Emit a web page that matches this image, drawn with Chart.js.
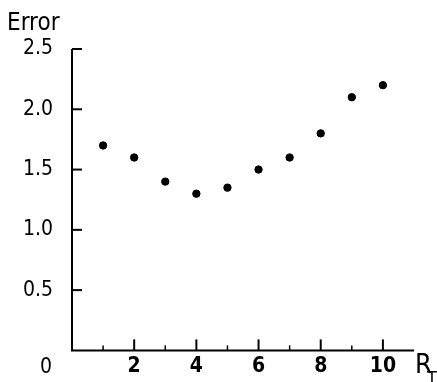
<!DOCTYPE html>
<html>
<head>
<meta charset="utf-8">
<script src="https://cdn.jsdelivr.net/npm/chart.js@4"></script>
<style>
  html, body { margin: 0; padding: 0; background: #fff; }
  #wrap { width: 437px; height: 382px; position: relative; }
</style>
</head>
<body>
<div id="wrap"><canvas id="errChart"></canvas></div>
<script>
// data
const rtValues = [1, 2, 3, 4, 5, 6, 7, 8, 9, 10];
const errorValues = [1.7, 1.6, 1.4, 1.3, 1.35, 1.5, 1.6, 1.8, 2.1, 2.2];
const xTickLabels = [2, 4, 6, 8, 10];
const yTickLabels = [0.5, 1.0, 1.5, 2.0, 2.5];

const FONT = '"Liberation Sans Narrow", "DejaVu Sans Condensed", sans-serif';
const INK = '#000';

/* =========================
   AXES + TICKS PLUGIN
 ========================= */
const axesPlugin = {
  id: 'paperAxes',
  afterDraw(chart) {
    const { ctx } = chart;
    const x = chart.scales.x;
    const y = chart.scales.y;
    const x0 = x.getPixelForValue(0);
    const y0 = y.getPixelForValue(0);

    ctx.save();
    ctx.strokeStyle = INK;
    ctx.lineWidth = 2;
    ctx.lineCap = 'butt';

    // axis lines
    ctx.beginPath();
    ctx.moveTo(x0, y.getPixelForValue(2.5));
    ctx.lineTo(x0, y0);
    ctx.lineTo(x.getPixelForValue(11), y0);
    ctx.stroke();

    // y ticks (inward)
    yTickLabels.forEach(v => {
      const py = y.getPixelForValue(v);
      ctx.beginPath();
      ctx.moveTo(x0, py);
      ctx.lineTo(x0 + 10, py);
      ctx.stroke();
    });

    // x ticks (inward, minor on odd)
    for (let v = 1; v <= 10; v++) {
      const px = x.getPixelForValue(v);
      const len = v % 2 === 0 ? 11 : 5;
      ctx.lineWidth = v % 2 === 0 ? 2 : 1.5;
      ctx.beginPath();
      ctx.moveTo(px, y0);
      ctx.lineTo(px, y0 - len);
      ctx.stroke();
    }

    // texts
    ctx.fillStyle = INK;
    ctx.font = '21px ' + FONT;
    ctx.textAlign = 'left';
    ctx.textBaseline = 'alphabetic';
    ctx.fillText('0', 40, 373);

    ctx.font = '24px ' + FONT;
    ctx.fillText('Error', 7, 30);

    ctx.font = '27px ' + FONT;
    ctx.fillText('R', 415, 373);
    ctx.font = '18px ' + FONT;
    ctx.fillText('T', 427, 384);
    ctx.restore();
  }
};

/* =========================
   CHART
 ========================= */
const ctx = document.getElementById('errChart').getContext('2d');
new Chart(ctx, {
  type: 'scatter',
  data: {
    datasets: [{
      data: rtValues.map((r, i) => ({ x: r, y: errorValues[i] })),
      backgroundColor: INK,
      borderColor: INK,
      borderWidth: 1,
      pointRadius: 3.7
    }]
  },
  options: {
    responsive: true,
    maintainAspectRatio: false,
    animation: false,
    layout: { padding: { top: 49, right: 23, bottom: 0, left: 0 } },
    plugins: {
      legend: { display: false },
      tooltip: { enabled: false }
    },
    scales: {
      x: {
        type: 'linear',
        min: 0,
        max: 11,
        grid: { display: false, drawTicks: false, tickLength: 0 },
        border: { display: false },
        ticks: {
          stepSize: 1,
          autoSkip: false,
          maxRotation: 0,
          padding: 4,
          color: INK,
          font: { family: FONT, size: 21, weight: 'bold' },
          callback: v => xTickLabels.includes(v) ? String(v) : ''
        },
        afterFit: s => { s.height = 30; }
      },
      y: {
        type: 'linear',
        min: 0,
        max: 2.5,
        grid: { display: false, drawTicks: false, tickLength: 0 },
        border: { display: false },
        ticks: {
          stepSize: 0.5,
          padding: 19,
          color: INK,
          font: { family: FONT, size: 21 },
          callback: v => yTickLabels.includes(v) ? v.toFixed(1) : ''
        },
        afterFit: s => { s.width = 72; }
      }
    }
  },
  plugins: [axesPlugin]
});
</script>
</body>
</html>
